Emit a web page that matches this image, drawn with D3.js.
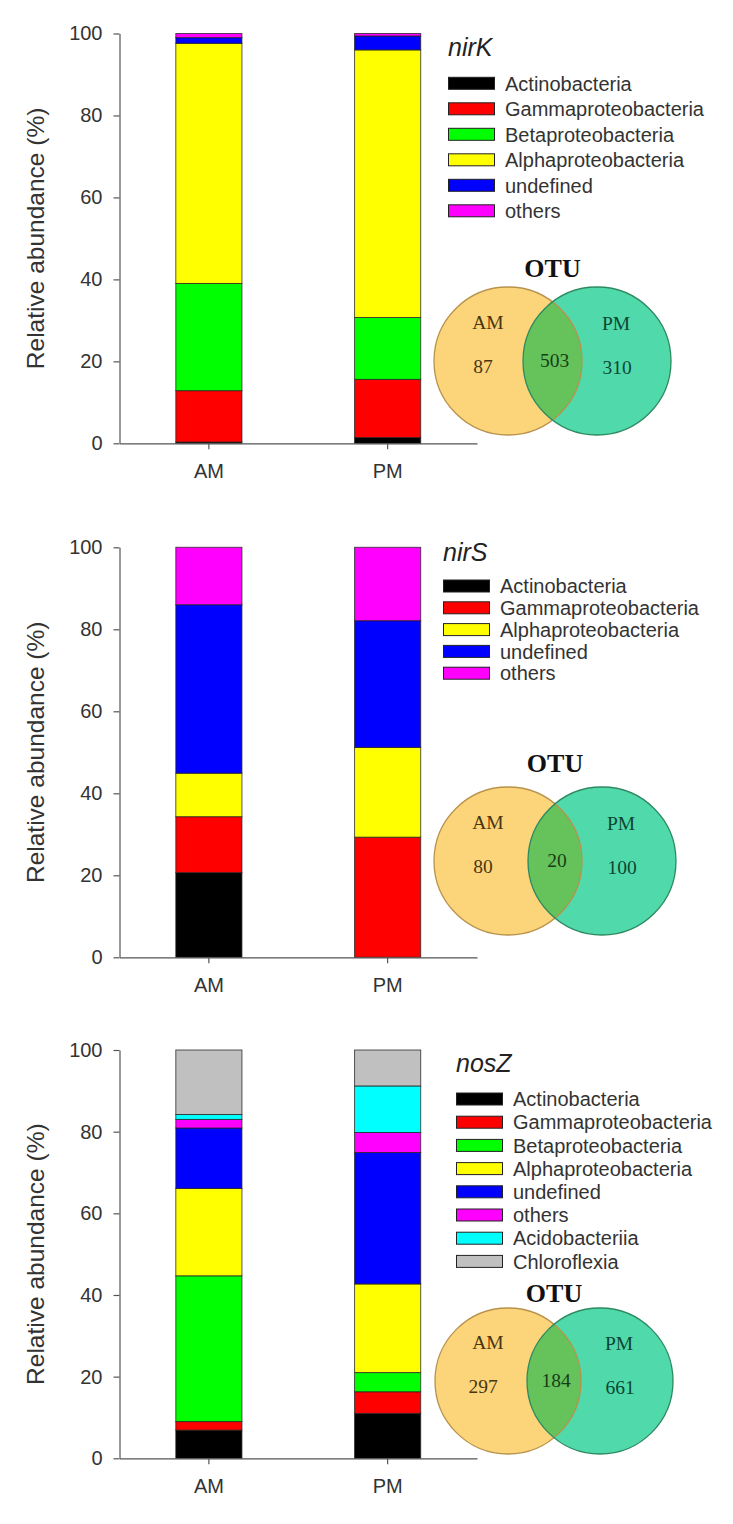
<!DOCTYPE html>
<html>
<head>
<meta charset="utf-8">
<script src="https://cdn.jsdelivr.net/npm/d3@7"></script>
<style>
  body { margin: 0; background: #fff; }
</style>
</head>
<body>
<div id="chart"></div>
<script>
// sampling times
const samples = ["AM", "PM"];
const yTicks = [0, 20, 40, 60, 80, 100];

// nirK, relative abundance (%) of each taxon, bottom to top
const nirKTaxa = ["Actinobacteria", "Gammaproteobacteria", "Betaproteobacteria", "Alphaproteobacteria", "undefined", "others"];
const nirKAM = [0.3, 12.55, 26.15, 58.6, 1.4, 1.0];
const nirKPM = [1.4, 14.2, 15.1, 65.3, 3.4, 0.6];
const nirKOtu = [87, 503, 310];   // AM only, shared, PM only

// nirS
const nirSTaxa = ["Actinobacteria", "Gammaproteobacteria", "Alphaproteobacteria", "undefined", "others"];
const nirSAM = [20.65, 13.65, 10.6, 41.1, 14.0];
const nirSPM = [0, 29.3, 21.9, 30.9, 17.9];
const nirSOtu = [80, 20, 100];

// nosZ
const nosZTaxa = ["Actinobacteria", "Gammaproteobacteria", "Betaproteobacteria", "Alphaproteobacteria", "undefined", "others", "Acidobacteriia", "Chloroflexia"];
const nosZAM = [6.9, 2.1, 35.7, 21.4, 14.8, 2.1, 1.2, 15.8];
const nosZPM = [11.0, 5.3, 4.7, 21.7, 32.2, 4.9, 11.4, 8.8];
const nosZOtu = [297, 184, 661];

const taxonColor = {
  "Actinobacteria": "#000000",
  "Gammaproteobacteria": "#ff0000",
  "Betaproteobacteria": "#00ff00",
  "Alphaproteobacteria": "#ffff00",
  "undefined": "#0000ff",
  "others": "#ff00ff",
  "Acidobacteriia": "#00ffff",
  "Chloroflexia": "#c0c0c0"
};

const panels = [
  {gene: "nirK", taxa: nirKTaxa, values: [nirKAM, nirKPM], otu: nirKOtu,
   top: 33.5, bottom: 443.3,
   legend: {x: 448, titleY: 56, y0: 83.3, step: 25.5},
   venn: {titleY: 277, cy: 361, cxL: 508, cxR: 597, r: 74}},
  {gene: "nirS", taxa: nirSTaxa, values: [nirSAM, nirSPM], otu: nirSOtu,
   top: 547.3, bottom: 957.3,
   legend: {x: 443, titleY: 561, y0: 586, step: 21.8},
   venn: {titleY: 772, cy: 861, cxL: 508, cxR: 602, r: 74}},
  {gene: "nosZ", taxa: nosZTaxa, values: [nosZAM, nosZPM], otu: nosZOtu,
   top: 1050, bottom: 1458.3,
   legend: {x: 456, titleY: 1072, y0: 1099, step: 23.2},
   venn: {titleY: 1302, cy: 1381, cxL: 508, cxR: 600, r: 73}}
];

const width = 733, height = 1524;
const sans = "'Liberation Sans', Arial, sans-serif";
const serif = "'Liberation Serif', 'Times New Roman', serif";

const svg = d3.select("#chart").append("svg")
    .attr("width", width)
    .attr("height", height)
    .attr("viewBox", [0, 0, width, height]);

svg.append("rect").attr("width", width).attr("height", height).attr("fill", "#fff");

const x = d3.scaleBand().domain(samples)
    .range([119.5, 477])
    .paddingInner(0.63)
    .paddingOuter(0.315);

panels.forEach((p, pi) => {
  const y = d3.scaleLinear().domain([0, 100]).range([p.bottom, p.top]);
  const g = svg.append("g");

  // stacked bars
  samples.forEach((s, si) => {
    let acc = 0;
    const segs = p.taxa.map((t, ti) => {
      const v = p.values[si][ti];
      const seg = {taxon: t, y0: acc, y1: acc + v};
      acc += v;
      return seg;
    }).filter(d => d.y1 > d.y0);

    g.append("g")
      .selectAll("rect")
      .data(segs)
      .join("rect")
        .attr("x", x(s))
        .attr("width", x.bandwidth())
        .attr("y", d => y(d.y1))
        .attr("height", d => y(d.y0) - y(d.y1))
        .attr("fill", d => taxonColor[d.taxon])
        .attr("stroke", "#222")
        .attr("stroke-opacity", 0.75)
        .attr("stroke-width", 1);
  });

  // axes
  g.append("g")
      .attr("transform", `translate(119.5,0)`)
      .call(d3.axisLeft(y).tickValues(yTicks).tickSize(6).tickSizeOuter(0).tickPadding(11))
      .call(a => a.selectAll("path, line").attr("stroke", "#555").attr("stroke-width", 1.2))
      .call(a => a.selectAll("text").attr("font-size", 20).attr("font-family", sans).attr("fill", "#333"));

  g.append("g")
      .attr("transform", `translate(0,${p.bottom})`)
      .call(d3.axisBottom(x).tickSize(6).tickSizeOuter(0).tickPadding(15))
      .call(a => a.selectAll("path, line").attr("stroke", "#555").attr("stroke-width", 1.2))
      .call(a => a.selectAll("text").attr("font-size", 20).attr("font-family", sans).attr("fill", "#333"));

  g.append("text")
      .attr("transform", `translate(44,${(p.top + p.bottom) / 2}) rotate(-90)`)
      .attr("text-anchor", "middle")
      .attr("font-family", sans)
      .attr("font-size", 24.5)
      .attr("fill", "#333")
      .text("Relative abundance (%)");

  // legend
  const L = p.legend;
  g.append("text")
      .attr("x", L.x)
      .attr("y", L.titleY)
      .attr("font-family", sans)
      .attr("font-style", "italic")
      .attr("font-size", 25)
      .attr("fill", "#222")
      .text(p.gene);

  const items = g.append("g")
    .selectAll("g")
    .data(p.taxa)
    .join("g")
      .attr("transform", (d, i) => `translate(${L.x},${L.y0 + i * L.step})`);

  items.append("rect")
      .attr("x", 0.5)
      .attr("y", -6)
      .attr("width", 46)
      .attr("height", 12)
      .attr("fill", d => taxonColor[d])
      .attr("stroke", "#222")
      .attr("stroke-width", 1);

  items.append("text")
      .attr("x", 57)
      .attr("dy", "0.36em")
      .attr("font-family", sans)
      .attr("font-size", 20)
      .attr("fill", "#333")
      .text(d => d);

  // Venn diagram of OTUs
  const V = p.venn;
  const vg = g.append("g");
  const clipId = `clipAM${pi}`;
  vg.append("clipPath").attr("id", clipId)
    .append("circle").attr("cx", V.cxL).attr("cy", V.cy).attr("r", V.r);

  vg.append("text")
      .attr("x", (V.cxL + V.cxR) / 2)
      .attr("y", V.titleY)
      .attr("text-anchor", "middle")
      .attr("font-family", serif)
      .attr("font-weight", "bold")
      .attr("font-size", 26)
      .attr("fill", "#111")
      .text("OTU");

  vg.append("circle").attr("cx", V.cxL).attr("cy", V.cy).attr("r", V.r)
      .attr("fill", "#fcd57b");
  vg.append("circle").attr("cx", V.cxR).attr("cy", V.cy).attr("r", V.r)
      .attr("fill", "#50d9aa");
  vg.append("circle").attr("cx", V.cxR).attr("cy", V.cy).attr("r", V.r)
      .attr("clip-path", `url(#${clipId})`)
      .attr("fill", "#66c35b");
  vg.append("circle").attr("cx", V.cxL).attr("cy", V.cy).attr("r", V.r)
      .attr("fill", "none").attr("stroke", "#b8924a").attr("stroke-width", 1.3);
  vg.append("circle").attr("cx", V.cxR).attr("cy", V.cy).attr("r", V.r)
      .attr("fill", "none").attr("stroke", "#2d8a60").attr("stroke-width", 1.3);

  const vText = (tx, ty, str, col) => vg.append("text")
      .attr("x", tx).attr("y", ty)
      .attr("text-anchor", "middle")
      .attr("font-family", serif)
      .attr("font-size", 19.5)
      .attr("fill", col)
      .text(str);

  vText(V.cxL - 20, V.cy - 32, samples[0], "#4a3510");
  vText(V.cxL - 25, V.cy + 12, p.otu[0], "#4a3510");
  vText((V.cxL + V.cxR) / 2 + 2, V.cy + 6, p.otu[1], "#173d18");
  vText(V.cxR + 19, V.cy - 31, samples[1], "#0c4733");
  vText(V.cxR + 20, V.cy + 13, p.otu[2], "#0c4733");
});
</script>
</body>
</html>
